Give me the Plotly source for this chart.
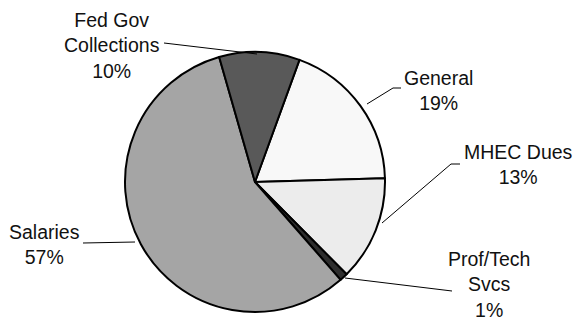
import plotly.graph_objects as go

W, H = 577, 321

# ---- data ----
categories = ["General", "MHEC Dues", "Prof/Tech Svcs", "Salaries", "Fed Gov Collections"]
values = [19, 13, 1, 57, 10]
label_texts = ["General<br>19%", "MHEC Dues<br>13%", "Prof/Tech<br>Svcs<br>1%",
               "Salaries<br>57%", "Fed Gov<br>Collections<br>10%"]
colors = ["#f8f8f8", "#ececec", "#2e2e2e", "#a5a5a5", "#595959"]

# ---- label placement (pixel positions) ----
label_pos = [(438, 90), (518, 164.5), (489, 284.5), (44, 244.5), (112, 45)]
leaders = [
    [(367, 104), (393, 88), (401, 88)],
    [(382, 223), (451, 164), (460, 164)],
    [(345, 278), (452, 291)],
    [(135, 242), (83, 243)],
    [(257, 54), (164, 43)],
]


def px(x, y):
    return x / W, 1 - y / H


fig = go.Figure(go.Pie(
    labels=categories,
    values=values,
    sort=False,
    direction="clockwise",
    rotation=20,
    marker=dict(colors=colors, line=dict(color="#000000", width=2)),
    textinfo="none",
    hoverinfo="label+percent",
    showlegend=False,
    domain=dict(x=[(255 - 133) / W, (255 + 133) / W],
                y=[(H - 182 - 130) / H, (H - 182 + 130) / H]),
))

annotations = []
for txt, (x, y) in zip(label_texts, label_pos):
    xp, yp = px(x, y)
    annotations.append(dict(
        x=xp, y=yp, xref="paper", yref="paper", text=txt, showarrow=False,
        xanchor="center", yanchor="middle", align="center", borderpad=0,
        font=dict(family="Liberation Sans, Arial, sans-serif", size=19.5, color="#111111"),
    ))

shapes = []
for pts in leaders:
    for (x0, y0), (x1, y1) in zip(pts[:-1], pts[1:]):
        a, b = px(x0, y0)
        c, d = px(x1, y1)
        shapes.append(dict(type="line", xref="paper", yref="paper",
                           x0=a, y0=b, x1=c, y1=d,
                           line=dict(color="#000000", width=1)))

fig.update_layout(
    width=W, height=H,
    margin=dict(l=0, r=0, t=0, b=0),
    paper_bgcolor="white", plot_bgcolor="white",
    annotations=annotations, shapes=shapes,
)

fig.write_html("out.html")
